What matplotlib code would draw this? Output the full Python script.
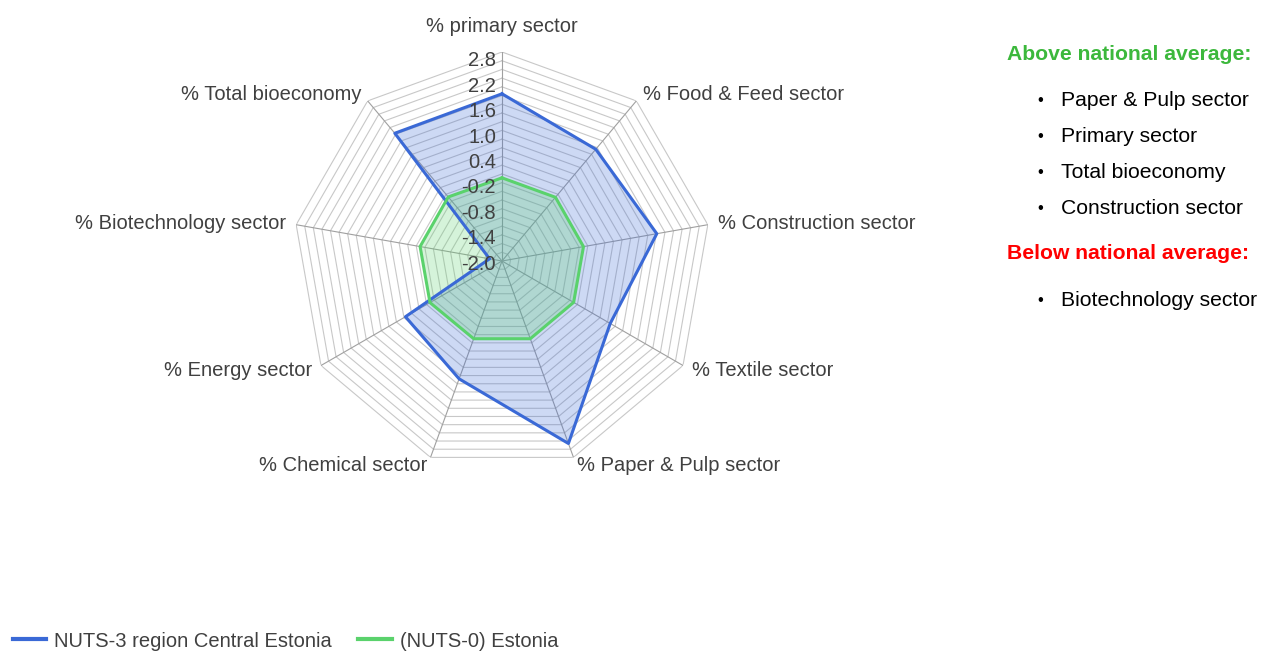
import numpy as np
import matplotlib.pyplot as plt
from matplotlib.lines import Line2D

# data
categories = ['% primary sector', '% Food & Feed sector', '% Construction sector',
              '% Textile sector', '% Paper & Pulp sector', '% Chemical sector',
              '% Energy sector', '% Biotechnology sector', '% Total bioeconomy']
region = [1.84, 1.35, 1.61, 0.87, 2.46, 0.88, 0.56, -1.71, 1.83]
national = [-0.09, -0.09, -0.1, -0.1, -0.1, -0.1, -0.09, -0.09, -0.08]
rticks = [-2.0, -1.4, -0.8, -0.2, 0.4, 1.0, 1.6, 2.2, 2.8]
above = ['Paper & Pulp sector', 'Primary sector', 'Total bioeconomy', 'Construction sector']
below = ['Biotechnology sector']

plt.rcParams['font.family'] = ['Liberation Sans', 'DejaVu Sans']
txt_col = '#404040'
blue = '#3a69d6'
green = '#5ad26c'
fs = 14.5

W, H = 1264, 653
fig = plt.figure(figsize=(W / 100, H / 100), dpi=100)
cx, cy, rad = 502, 261, 209
ax = fig.add_axes([(cx - rad) / W, 1 - (cy + rad) / H, 2 * rad / W, 2 * rad / H],
                  projection='polar')
ax.set_theta_offset(np.pi / 2)
ax.set_theta_direction(-1)
ax.set_ylim(-2.0, 2.8)
ax.grid(False)
ax.spines['polar'].set_visible(False)
ax.set_xticks([])
ax.set_yticks([])
ax.patch.set_alpha(0)

n = len(categories)
ang = np.linspace(0, 2 * np.pi, n, endpoint=False)
ang_c = np.append(ang, ang[0])

# polygon grid every 0.2
for r in np.arange(-1.8, 2.81, 0.2):
    ax.plot(ang_c, [r] * (n + 1), color='#c8c8c8', lw=0.8, zorder=1)
for a in ang:
    ax.plot([a, a], [-2.0, 2.8], color='#a0a0a0', lw=0.8, zorder=1)

reg_c = region + region[:1]
nat_c = national + national[:1]
ax.fill(ang_c, reg_c, color=blue, alpha=0.25, lw=0, zorder=2)
ax.plot(ang_c, reg_c, color=blue, lw=2.2, zorder=4)
ax.fill(ang_c, nat_c, color=green, alpha=0.25, lw=0, zorder=3)
ax.plot(ang_c, nat_c, color=green, lw=2.2, zorder=5)

for v in rticks:
    ax.annotate(f'{v:.1f}', xy=(0, v), xytext=(-6, -3 - (v + 2) / 4.8 * 6),
                textcoords='offset pixels', ha='right', va='center',
                fontsize=fs, color=txt_col, zorder=6, annotation_clip=False)

for a, lab in zip(ang, categories):
    if np.isclose(a, 0):
        off, ha = (0, 25), 'center'
    else:
        off = (np.sin(a) * 10, np.cos(a) * 9)
        ha = 'left' if a < np.pi else 'right'
    ax.annotate(lab, xy=(a, 2.8), xytext=off, textcoords='offset pixels',
                ha=ha, va='center', fontsize=fs, color=txt_col,
                annotation_clip=False)

handles = [Line2D([], [], color=blue, lw=3), Line2D([], [], color=green, lw=3)]
fig.legend(handles, ['NUTS-3 region Central Estonia', '(NUTS-0) Estonia'],
           loc='lower left', bbox_to_anchor=(-0.004, -0.024), ncol=2, frameon=False,
           fontsize=fs, handlelength=1.65, handletextpad=0.4, columnspacing=1.3,
           labelcolor=txt_col)

fig.text(1007 / W, 1 - 55 / H, 'Above national average:', color='#3cb83c',
         fontsize=15.2, fontweight='bold', va='center')
for i, item in enumerate(above):
    y = 1 - (100 + i * 36.3) / H
    fig.text(1037 / W, y, '•', fontsize=12, va='center')
    fig.text(1061 / W, y, item, fontsize=15.2, va='center')
fig.text(1007 / W, 1 - 254 / H, 'Below national average:', color='#ff0000',
         fontsize=15.2, fontweight='bold', va='center')
for i, item in enumerate(below):
    y = 1 - (300 + i * 36.3) / H
    fig.text(1037 / W, y, '•', fontsize=12, va='center')
    fig.text(1061 / W, y, item, fontsize=15.2, va='center')

fig.savefig('out.png', dpi=100)
